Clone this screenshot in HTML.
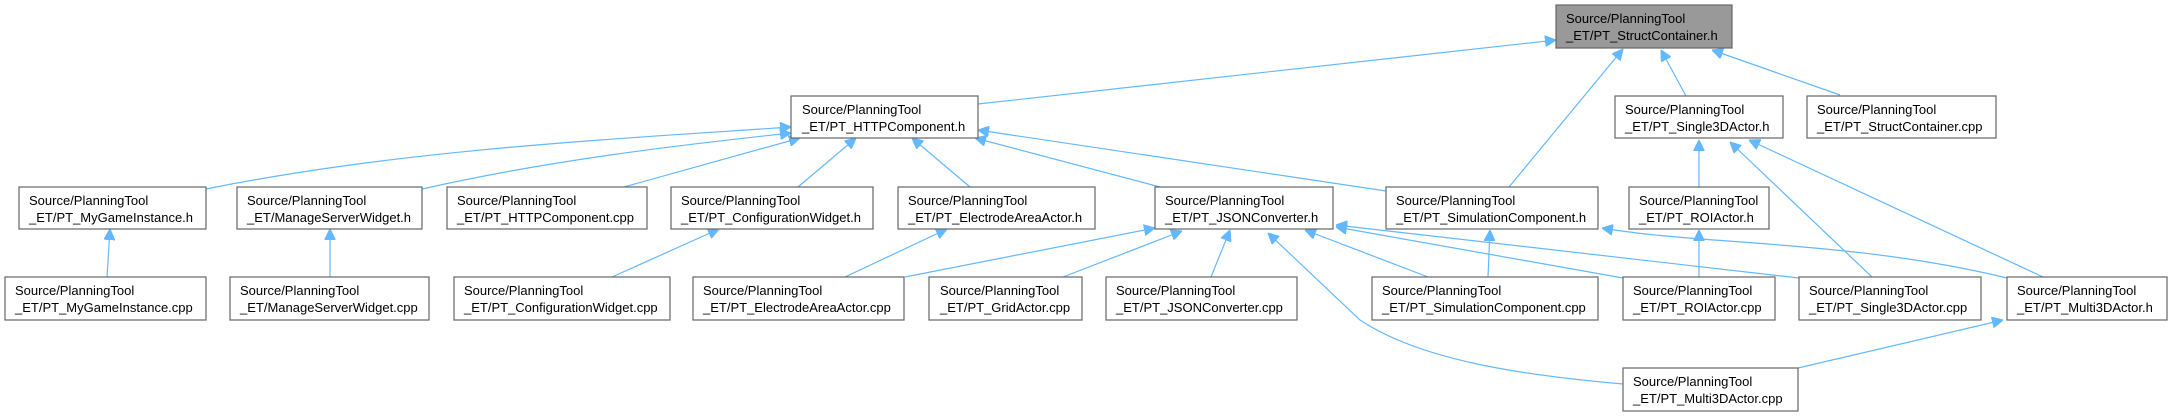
<!DOCTYPE html>
<html><head><meta charset="utf-8"><style>
html,body{margin:0;padding:0;background:#fff;}
svg{display:block;}
text{font-family:"Liberation Sans",Arial,sans-serif;font-size:13px;fill:#000;}
.n{fill:#fff;stroke:#666;stroke-width:1.2;}
.e{fill:none;stroke:#63b8ff;stroke-width:1.2;}
</style></head><body>
<svg width="2173" height="416" viewBox="0 0 2173 416" xmlns="http://www.w3.org/2000/svg">
<defs>
<marker id="a" viewBox="0 0 10 10" refX="10" refY="5" markerWidth="11" markerHeight="11" markerUnits="userSpaceOnUse" orient="auto">
<path d="M0,0 L10,5 L0,10 z" fill="#63b8ff" stroke="#63b8ff"/>
</marker>
</defs>
<g class="edges">
<path class="e" marker-end="url(#a)" d="M978,104 L1556,40"/>
<path class="e" marker-end="url(#a)" d="M206,189 C400,150 600,140 791,127"/>
<path class="e" marker-end="url(#a)" d="M422,189 C550,160 680,145 791,133"/>
<path class="e" marker-end="url(#a)" d="M624,187 L800,138"/>
<path class="e" marker-end="url(#a)" d="M798,187 L856,138"/>
<path class="e" marker-end="url(#a)" d="M970,187 L912,138"/>
<path class="e" marker-end="url(#a)" d="M1160,187 L975,138"/>
<path class="e" marker-end="url(#a)" d="M1386,191 L978,130"/>
<path class="e" marker-end="url(#a)" d="M107,277 L110,229"/>
<path class="e" marker-end="url(#a)" d="M330,277 L330,229"/>
<path class="e" marker-end="url(#a)" d="M612,277 L719,229"/>
<path class="e" marker-end="url(#a)" d="M845,277 L947,229"/>
<path class="e" marker-end="url(#a)" d="M905,277 L1155,228"/>
<path class="e" marker-end="url(#a)" d="M1063,277 L1182,231"/>
<path class="e" marker-end="url(#a)" d="M1211,277 L1230,230"/>
<path class="e" marker-end="url(#a)" d="M1428,277 L1305,230"/>
<path class="e" marker-end="url(#a)" d="M1623,278 L1336,227"/>
<path class="e" marker-end="url(#a)" d="M1799,278 L1336,225"/>
<path class="e" marker-end="url(#a)" d="M2007,278 C1850,240 1700,245 1602,228"/>
<path class="e" marker-end="url(#a)" d="M1623,384 C1520,375 1420,360 1360,320 L1268,233"/>
<path class="e" marker-end="url(#a)" d="M1798,368 L2003,320"/>
<path class="e" marker-end="url(#a)" d="M1509,187 L1623,49"/>
<path class="e" marker-end="url(#a)" d="M1488,277 L1490,230"/>
<path class="e" marker-end="url(#a)" d="M1686,96 L1661,50"/>
<path class="e" marker-end="url(#a)" d="M1840,95 L1712,50"/>
<path class="e" marker-end="url(#a)" d="M1699,187 L1699,140"/>
<path class="e" marker-end="url(#a)" d="M1699,277 L1699,230"/>
<path class="e" marker-end="url(#a)" d="M1872,277 L1730,142"/>
<path class="e" marker-end="url(#a)" d="M2043,277 L1749,140"/>
</g>
<g>
<rect x="1556" y="5" width="176" height="43" fill="#999" stroke="#666" stroke-width="1.2"/>
<text x="1566" y="23">Source/PlanningTool</text><text x="1566" y="40">_ET/PT_StructContainer.h</text>

<rect class="n" x="791" y="96" width="187" height="42"/>
<text x="802" y="114">Source/PlanningTool</text><text x="802" y="131">_ET/PT_HTTPComponent.h</text>
<rect class="n" x="1615" y="96" width="168" height="42"/>
<text x="1625" y="114">Source/PlanningTool</text><text x="1625" y="131">_ET/PT_Single3DActor.h</text>
<rect class="n" x="1807" y="96" width="189" height="42"/>
<text x="1817" y="114">Source/PlanningTool</text><text x="1817" y="131">_ET/PT_StructContainer.cpp</text>

<rect class="n" x="19" y="187" width="187" height="42"/>
<text x="29" y="205">Source/PlanningTool</text><text x="29" y="222">_ET/PT_MyGameInstance.h</text>
<rect class="n" x="237" y="187" width="185" height="42"/>
<text x="247" y="205">Source/PlanningTool</text><text x="247" y="222">_ET/ManageServerWidget.h</text>
<rect class="n" x="447" y="187" width="200" height="42"/>
<text x="457" y="205">Source/PlanningTool</text><text x="457" y="222">_ET/PT_HTTPComponent.cpp</text>
<rect class="n" x="671" y="187" width="202" height="42"/>
<text x="681" y="205">Source/PlanningTool</text><text x="681" y="222">_ET/PT_ConfigurationWidget.h</text>
<rect class="n" x="898" y="187" width="197" height="42"/>
<text x="908" y="205">Source/PlanningTool</text><text x="908" y="222">_ET/PT_ElectrodeAreaActor.h</text>
<rect class="n" x="1155" y="187" width="178" height="42"/>
<text x="1165" y="205">Source/PlanningTool</text><text x="1165" y="222">_ET/PT_JSONConverter.h</text>
<rect class="n" x="1386" y="187" width="212" height="42"/>
<text x="1396" y="205">Source/PlanningTool</text><text x="1396" y="222">_ET/PT_SimulationComponent.h</text>
<rect class="n" x="1629" y="187" width="140" height="42"/>
<text x="1639" y="205">Source/PlanningTool</text><text x="1639" y="222">_ET/PT_ROIActor.h</text>

<rect class="n" x="5" y="277" width="201" height="43"/>
<text x="15" y="295">Source/PlanningTool</text><text x="15" y="312">_ET/PT_MyGameInstance.cpp</text>
<rect class="n" x="230" y="277" width="199" height="43"/>
<text x="240" y="295">Source/PlanningTool</text><text x="240" y="312">_ET/ManageServerWidget.cpp</text>
<rect class="n" x="454" y="277" width="216" height="43"/>
<text x="464" y="295">Source/PlanningTool</text><text x="464" y="312">_ET/PT_ConfigurationWidget.cpp</text>
<rect class="n" x="693" y="277" width="211" height="43"/>
<text x="703" y="295">Source/PlanningTool</text><text x="703" y="312">_ET/PT_ElectrodeAreaActor.cpp</text>
<rect class="n" x="929" y="277" width="153" height="43"/>
<text x="940" y="295">Source/PlanningTool</text><text x="940" y="312">_ET/PT_GridActor.cpp</text>
<rect class="n" x="1106" y="277" width="191" height="43"/>
<text x="1116" y="295">Source/PlanningTool</text><text x="1116" y="312">_ET/PT_JSONConverter.cpp</text>
<rect class="n" x="1372" y="277" width="226" height="43"/>
<text x="1382" y="295">Source/PlanningTool</text><text x="1382" y="312">_ET/PT_SimulationComponent.cpp</text>
<rect class="n" x="1623" y="277" width="152" height="43"/>
<text x="1633" y="295">Source/PlanningTool</text><text x="1633" y="312">_ET/PT_ROIActor.cpp</text>
<rect class="n" x="1799" y="277" width="182" height="43"/>
<text x="1809" y="295">Source/PlanningTool</text><text x="1809" y="312">_ET/PT_Single3DActor.cpp</text>
<rect class="n" x="2007" y="277" width="160" height="43"/>
<text x="2017" y="295">Source/PlanningTool</text><text x="2017" y="312">_ET/PT_Multi3DActor.h</text>

<rect class="n" x="1623" y="368" width="175" height="43"/>
<text x="1633" y="386">Source/PlanningTool</text><text x="1633" y="403">_ET/PT_Multi3DActor.cpp</text>
</g>
</svg>
</body></html>
